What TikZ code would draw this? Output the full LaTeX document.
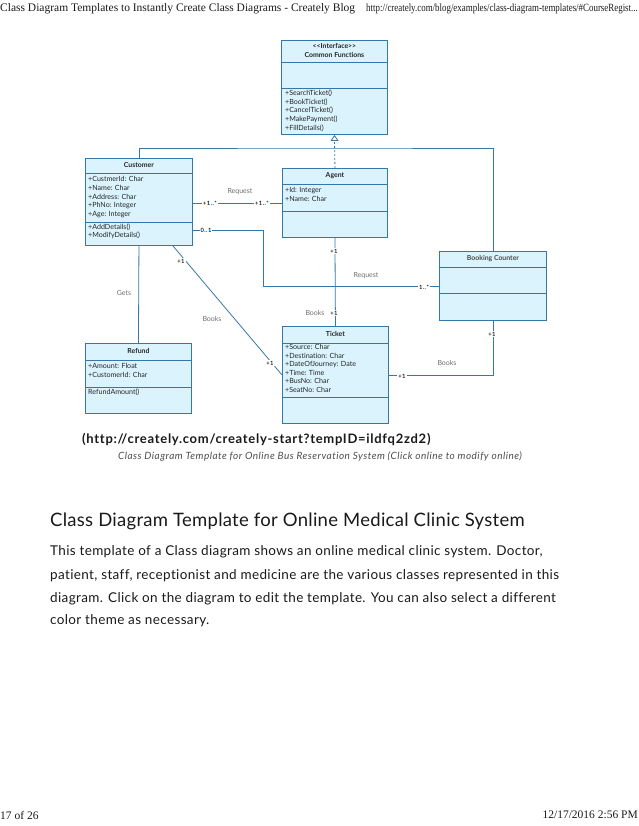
\documentclass[tikz,border=0pt]{standalone}
\usepackage{fontspec}
\setmainfont{Lato}[Ligatures={NoCommon}]
\newfontfamily\timesfont{Liberation Serif}
\newfontfamily\narrowtimes[FakeStretch=0.81]{Liberation Serif}
\usetikzlibrary{positioning}
\usetikzlibrary{arrows.meta}
\usetikzlibrary{calc}
\definecolor{umlblue}{RGB}{52,120,170}
\definecolor{umlfill}{RGB}{218,243,252}
\definecolor{labelgray}{RGB}{110,110,110}
\definecolor{multdark}{RGB}{40,40,40}

\begin{document}
\begin{tikzpicture}[x=1pt, y=-1pt,
                    classbox/.style={draw=umlblue, fill=umlfill, line width=0.9pt, anchor=north west, inner sep=0pt},
                    classline/.style={draw=umlblue, line width=0.9pt},
                    classtitle/.style={font=\fontsize{6.9}{8.4}\selectfont\bfseries, text=black!85, align=center, inner sep=0pt},
                    member/.style={font=\fontsize{7.1}{8.6}\selectfont, text=black!85, align=left, anchor=north west, inner sep=0pt},
                    link/.style={draw=umlblue, line width=0.8pt},
                    mult/.style={font=\fontsize{5.8}{7}\selectfont\bfseries\addfontfeature{LetterSpace=8}, text=multdark, fill=white, inner sep=1pt},
                    role/.style={font=\fontsize{7}{8}\selectfont, text=labelgray, inner sep=0pt},
                    pagetext/.style={anchor=west, inner sep=0pt, text=black!90}
                ]
                \useasboundingbox (0,0) rectangle (638,826);

                % page header and footer
                \node[pagetext, font=\timesfont\fontsize{11.5}{13}\selectfont] (pagetitle) at (0,9) {Class Diagram Templates to Instantly Create Class Diagrams - Creately Blog};
                \node[pagetext, anchor=east, font=\narrowtimes\fontsize{11}{13}\selectfont] (pageurl) at (638,9) {http://creately.com/blog/examples/class-diagram-templates/\#CourseRegist...};
                \node[pagetext, font=\timesfont\fontsize{11.5}{13}\selectfont] (pageno) at (0,815) {17 of 26};
                \node[pagetext, anchor=east, font=\timesfont\fontsize{11.5}{13}\selectfont] (pagedate) at (638,815) {12/17/2016 2:56 PM};

                % classes
                \node[classbox, minimum width=106pt, minimum height=94pt] (iface) at (281,40) {};
                \draw[classline] ([yshift=-22pt]iface.north west) -- ([yshift=-22pt]iface.north east);
                \draw[classline] ([yshift=-48pt]iface.north west) -- ([yshift=-48pt]iface.north east);
                \node[classtitle] (ifacetitle) at ([yshift=-10.5pt]iface.north) {{<}{<}Interface{>}{>}\\Common Functions};
                \node[member] (ifaceops) at ([shift={(4pt,-50pt)}]iface.north west) {+SearchTicket()\\+BookTicket()\\+CancelTicket()\\+MakePayment()\\+FillDetails()};

                \node[classbox, minimum width=107pt, minimum height=87pt] (cust) at (85,158) {};
                \draw[classline] ([yshift=-15pt]cust.north west) -- ([yshift=-15pt]cust.north east);
                \draw[classline] ([yshift=-64pt]cust.north west) -- ([yshift=-64pt]cust.north east);
                \node[classtitle] (custtitle) at ([yshift=-7.5pt]cust.north) {Customer};
                \node[member] (custattrs) at ([shift={(3pt,-18.5pt)}]cust.north west) {+CustmerId: Char\\+Name: Char\\+Address: Char\\+PhNo: Integer\\+Age: Integer};
                \node[member] (custops) at ([shift={(3pt,-65.5pt)}]cust.north west) {+AddDetails()\\+ModifyDetails()};

                \node[classbox, minimum width=105pt, minimum height=69pt] (agent) at (282,168) {};
                \draw[classline] ([yshift=-16pt]agent.north west) -- ([yshift=-16pt]agent.north east);
                \draw[classline] ([yshift=-43pt]agent.north west) -- ([yshift=-43pt]agent.north east);
                \node[classtitle] (agenttitle) at ([yshift=-7.5pt]agent.north) {Agent};
                \node[member] (agentattrs) at ([shift={(3pt,-19pt)}]agent.north west) {+Id: Integer\\+Name: Char};

                \node[classbox, minimum width=107pt, minimum height=69pt] (bc) at (439,251) {};
                \draw[classline] ([yshift=-16pt]bc.north west) -- ([yshift=-16pt]bc.north east);
                \draw[classline] ([yshift=-42pt]bc.north west) -- ([yshift=-42pt]bc.north east);
                \node[classtitle, text=black!70] (bctitle) at ([yshift=-8pt]bc.north) {Booking Counter};

                \node[classbox, minimum width=106pt, minimum height=97pt] (ticket) at (282,326) {};
                \draw[classline] ([yshift=-17pt]ticket.north west) -- ([yshift=-17pt]ticket.north east);
                \draw[classline] ([yshift=-71pt]ticket.north west) -- ([yshift=-71pt]ticket.north east);
                \node[classtitle] (tickettitle) at ([yshift=-8pt]ticket.north) {Ticket};
                \node[member] (ticketattrs) at ([shift={(3pt,-18pt)}]ticket.north west) {+Source: Char\\+Destination: Char\\+DateOfJourney: Date\\+Time: Time\\+BusNo: Char\\+SeatNo: Char};

                \node[classbox, minimum width=106pt, minimum height=70pt] (refund) at (85,343) {};
                \draw[classline] ([yshift=-17pt]refund.north west) -- ([yshift=-17pt]refund.north east);
                \draw[classline] ([yshift=-44pt]refund.north west) -- ([yshift=-44pt]refund.north east);
                \node[classtitle] (refundtitle) at ([yshift=-8pt]refund.north) {Refund};
                \node[member] (refundattrs) at ([shift={(3pt,-20pt)}]refund.north west) {+Amount: Float\\+CustomerId: Char};
                \node[member] (refundops) at ([shift={(3pt,-46pt)}]refund.north west) {RefundAmount()};

                % realization of the interface
                \coordinate (genbar) at (334,148);
                \draw[link] (cust.north) |- (genbar) -| (bc.north);
                \draw[link, dash pattern=on 2pt off 2pt, -{Triangle[open, length=6pt, width=8pt]}] (agent.north) -- (iface.south);

                % associations
                \draw[link] (cust.east |- agent.west) -- (agent.west);
                \node[mult] (m1) at (210,203) {+1..*};
                \node[mult] (m2) at (262,203) {+1..*};
                \node[role] (r1) at (240,192) {Request};

                \coordinate (reqbend) at (263,230);
                \draw[link] (reqbend -| cust.east) -- (reqbend) |- (bc.west);
                \node[mult] (m3) at (206,230) {0..1};
                \node[mult] (m4) at (424,287) {1..*};
                \node[role] (r2) at (366,276) {Request};

                \draw[link] (agent.south) -- (ticket.north);
                \node[mult] (m5) at (334,251) {+1};
                \node[mult] (m6) at (334,313) {+1};
                \node[role] (r3) at (315,313) {Books};

                \draw[link] ([xshift=34pt]cust.south) -- (ticket.west);
                \node[mult] (m7) at (181,261) {+1};
                \node[mult] (m8) at (270,363) {+1};
                \node[role] (r4) at (212,319) {Books};

                \draw[link] (cust.south) -- (refund.north);
                \node[role] (r5) at (124,293) {Gets};

                \draw[link] (bc.south) |- (ticket.east);
                \node[mult] (m9) at (492,334) {+1};
                \node[mult] (m10) at (402,376) {+1};
                \node[role] (r6) at (447,363) {Books};

                % text below the diagram
                \node[pagetext, font=\fontsize{13}{15}\selectfont\bfseries\addfontfeature{LetterSpace=5.5}] (tmpllink) at (82,439) {(http://creately.com/creately-start?tempID=ildfq2zd2)};
                \node[inner sep=0pt, font=\fontsize{10}{12}\selectfont\itshape\addfontfeature{LetterSpace=4.8}, text=black!70] (caption) at (320,457) {Class Diagram Template for Online Bus Reservation System (Click online to modify online)};
                \node[pagetext, font=\fontsize{18.5}{21}\selectfont\addfontfeature{LetterSpace=1.5}] (heading) at (50,521) {Class Diagram Template for Online Medical Clinic System};
                \node[pagetext, font=\fontsize{13.5}{16}\selectfont\addfontfeature{LetterSpace=2.7}] (para1) at (50,552) {This template of a Class diagram shows an online medical clinic system. Doctor,};
                \node[pagetext, font=\fontsize{13.5}{16}\selectfont\addfontfeature{LetterSpace=2.7}] (para2) at (50,576) {patient, staff, receptionist and medicine are the various classes represented in this};
                \node[pagetext, font=\fontsize{13.5}{16}\selectfont\addfontfeature{LetterSpace=2.7}] (para3) at (50,599) {diagram. Click on the diagram to edit the template. You can also select a different};
                \node[pagetext, font=\fontsize{13.5}{16}\selectfont\addfontfeature{LetterSpace=2.7}] (para4) at (50,621) {color theme as necessary.};
            \end{tikzpicture}
\end{document}
